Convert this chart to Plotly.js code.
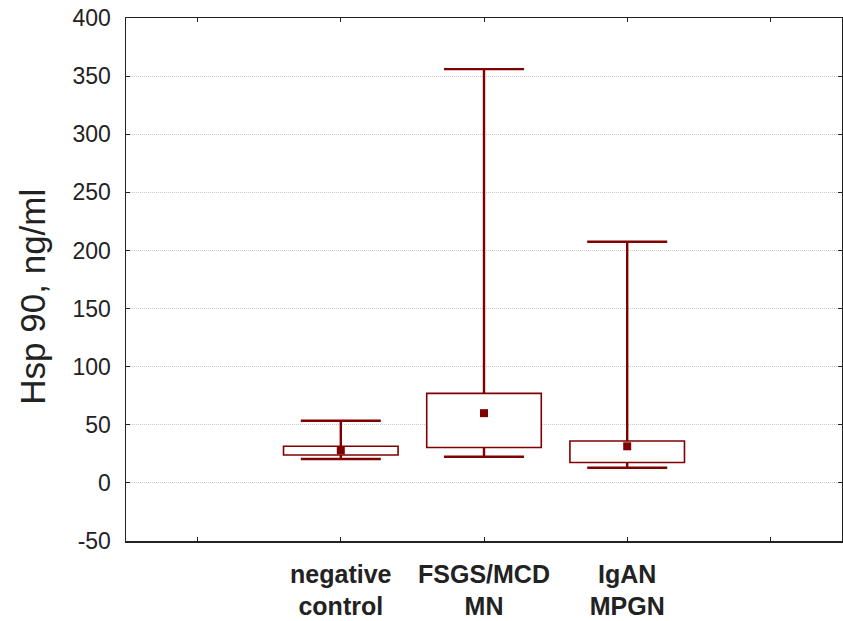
<!DOCTYPE html>
<html>
<head>
<meta charset="utf-8">
<script src="https://cdn.plot.ly/plotly-3.0.1.min.js"></script>
<style>html,body{margin:0;padding:0;background:#fff;}#chart{width:843px;height:621px;}</style>
</head>
<body>
<div id="chart"></div>
<script>
const categories = ["negative<br>control", "FSGS/MCD<br>MN", "IgAN<br>MPGN"];
const positions = [1, 2, 3];
const minVals = [20.5, 22.5, 13];
const q1Vals = [24, 30.5, 17.5];
const medianVals = [28, 60, 31.5];
const q3Vals = [31.5, 77, 36];
const maxVals = [53.5, 356, 207.5];
const yTicks = [-50, 0, 50, 100, 150, 200, 250, 300, 350, 400];
const yTitle = "Hsp 90, ng/ml";

const red = "#800000";
const boxHeights = q3Vals.map((v, i) => v - q1Vals[i]);
const zeros = positions.map(() => 0);

// whisker stems built from the data arrays
const stemX = [], stemY = [];
positions.forEach((p, i) => {
  stemX.push(p, p, null, p, p, null);
  stemY.push(q3Vals[i], maxVals[i], null, minVals[i], q1Vals[i], null);
});

const traces = [
  {
    type: "bar", x: positions, y: boxHeights, base: q1Vals, width: 0.8,
    marker: {color: "#ffffff", line: {color: red, width: 1.6}},
    hoverinfo: "skip", showlegend: false
  },
  {
    type: "scatter", mode: "lines", x: stemX, y: stemY,
    line: {color: red, width: 2.4}, connectgaps: false,
    showlegend: false, hoverinfo: "skip"
  },
  {
    type: "scatter", mode: "markers", x: positions, y: maxVals,
    marker: {size: 1, color: "rgba(0,0,0,0)"},
    error_y: {type: "data", symmetric: true, array: zeros,
      color: red, thickness: 2.4, width: 40},
    showlegend: false, hoverinfo: "skip"
  },
  {
    type: "scatter", mode: "markers", x: positions, y: minVals,
    marker: {size: 1, color: "rgba(0,0,0,0)"},
    error_y: {type: "data", symmetric: true, array: zeros,
      color: red, thickness: 2.4, width: 40},
    showlegend: false, hoverinfo: "skip"
  },
  {
    type: "scatter", mode: "markers", x: positions, y: medianVals,
    marker: {symbol: "square", size: 8, color: red},
    showlegend: false
  }
];

const layout = {
  width: 843, height: 621,
  margin: {l: 126, r: 1, t: 18, b: 80},
  paper_bgcolor: "#ffffff", plot_bgcolor: "#ffffff",
  font: {family: "Liberation Sans, Arial, sans-serif", color: "#222222"},
  bargap: 0,
  xaxis: {
    range: [-0.5, 4.5], tickmode: "array", tickvals: [0, 1, 2, 3, 4],
    ticktext: ["", categories[0], categories[1], categories[2], ""],
    showgrid: false, zeroline: false,
    showline: true, linecolor: "#222222", linewidth: 1.5, mirror: "ticks",
    ticks: "inside", ticklen: 4, tickcolor: "#222222", tickwidth: 1,
    tickfont: {size: 25, weight: "bold", color: "#222222"},
    ticklabelstandoff: 10,
    fixedrange: true
  },
  yaxis: {
    range: [-50, 400], tickmode: "array", tickvals: yTicks,
    ticktext: yTicks.map(v => String(v)),
    showgrid: true, gridcolor: "#c8c8c8", griddash: "1px,1px", gridwidth: 1,
    zeroline: false,
    showline: true, linecolor: "#222222", linewidth: 1.5, mirror: "ticks",
    ticks: "inside", ticklen: 4, tickcolor: "#222222", tickwidth: 1,
    tickfont: {size: 23, color: "#222222"},
    ticklabelstandoff: 9,
    fixedrange: true
  },
  annotations: [{
    text: yTitle, textangle: -90, showarrow: false,
    xref: "paper", yref: "paper", x: -0.13, y: 0.467,
    xanchor: "center", yanchor: "middle",
    font: {size: 35, color: "#222222"}
  }]
};

Plotly.newPlot("chart", traces, layout, {displayModeBar: false, staticPlot: true});
</script>
</body>
</html>
